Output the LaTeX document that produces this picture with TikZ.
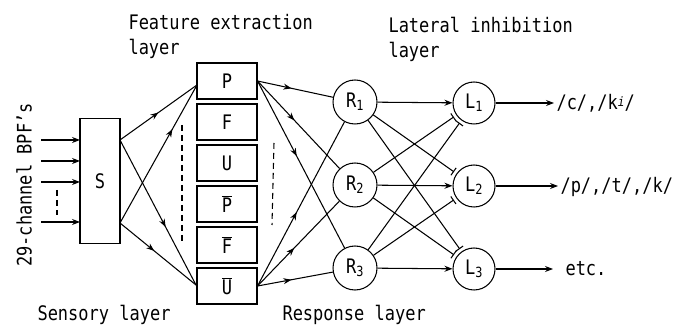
\documentclass[tikz,border=0pt]{standalone}
\usepackage{fontspec}
\setmainfont{DejaVu Sans Mono}[FakeStretch=0.85]
\usetikzlibrary{arrows.meta,decorations.markings}

\tikzset{
  tip/.tip={Stealth[length=8pt,width=6pt]},
  lbl/.style={font=\fontsize{20}{24}\selectfont, inner sep=0pt},
  sensebox/.style={draw, minimum width=40pt, minimum height=125pt, lbl},
  featbox/.style={draw, minimum width=60pt, minimum height=36pt, lbl},
  unit/.style={draw, circle, minimum size=44pt, lbl},
  excite/.style={-tip},
  inhibit/.style={-{Bar[width=9pt]}, shorten >=3pt},
  midarrow/.style={postaction={decorate},
    decoration={markings, mark=at position #1 with {\arrow{tip}}}},
  gapline/.style={dashed, dash pattern=on 6pt off 4pt}
}

\begin{document}
\begin{tikzpicture}[x=1pt, y=-1pt, line width=1.05pt]
\useasboundingbox (0,0) rectangle (675,328);

% layer titles
\node[lbl, anchor=base west] (tfeat) at (128,30) {Feature extraction};
\node[lbl, anchor=base west] (tfeat2) at (128,55) {layer};
\node[lbl, anchor=base west] (tlat) at (388,33) {Lateral inhibition};
\node[lbl, anchor=base west] (tlat2) at (388,58) {layer};
\node[lbl, anchor=base west] (tsens) at (37,321) {Sensory layer};
\node[lbl, anchor=base west] (tresp) at (282,321) {Response layer};
\node[lbl, rotate=90] (tbpf) at (24,185) {29-channel BPF's};

% sensory unit
\node[sensebox] (S) at (100,181) {S};

% input channels
\foreach \y/\n in {140/a, 161/b, 182/c, 222/d}{
  \coordinate (in\n) at (41,\y);
  \coordinate (inS\n) at (80,\y);
  \draw[excite] (in\n) -- (inS\n);
}
\coordinate (dA) at (57,190);
\coordinate (dB) at (57,215);
\draw[gapline] (dA) -- (dB);

% feature extraction units
\node[featbox] (P)  at (227,81)  {P};
\node[featbox] (F)  at (227,122) {F};
\node[featbox] (U)  at (227,163) {U};
\node[featbox] (Pb) at (227,204) {\ensuremath{\overline{\hbox{P}}}};
\node[featbox] (Fb) at (227,245) {\ensuremath{\overline{\hbox{F}}}};
\node[featbox] (Ub) at (227,286) {\ensuremath{\overline{\hbox{U}}}};

% sensory -> feature connections
\coordinate (s1) at (120,140);
\coordinate (s2) at (120,223);
\coordinate (pin) at (197,85);
\coordinate (uin) at (196,285);
\draw[midarrow=0.5]  (s1) -- (pin);
\draw[midarrow=0.6]  (s1) -- (uin);
\draw[midarrow=0.68] (s2) -- (pin);
\draw[midarrow=0.45] (s2) -- (uin);
\coordinate (dC) at (182,125);
\coordinate (dD) at (182,242);
\draw[gapline] (dC) -- (dD);

% response units
\node[unit] (R1) at (355,102) {R\textsubscript{1}};
\node[unit] (R2) at (355,185) {R\textsubscript{2}};
\node[unit] (R3) at (355,268) {R\textsubscript{3}};

% feature -> response connections
\foreach \r in {R1,R2,R3}{
  \draw[midarrow=0.45] (P.east) -- (\r);
  \draw[midarrow=0.45] (Ub.east) -- (\r);
}
\coordinate (dE) at (274,143);
\coordinate (dF) at (272,225);
\draw[gapline] (dE) -- (dF);

% lateral inhibition units
\node[unit, minimum size=42pt] (L1) at (474,103) {L\textsubscript{1}};
\node[unit, minimum size=42pt] (L2) at (474,186) {L\textsubscript{2}};
\node[unit, minimum size=42pt] (L3) at (474,269) {L\textsubscript{3}};

% excitatory and inhibitory links
\draw[excite]  (R1) -- (L1);
\draw[excite]  (R2) -- (L2);
\draw[excite]  (R3) -- (L3);
\draw[inhibit] (R1) -- (L2);
\draw[inhibit] (R1) -- (L3);
\draw[inhibit] (R2) -- (L1);
\draw[inhibit] (R2) -- (L3);
\draw[inhibit] (R3) -- (L1);
\draw[inhibit] (R3) -- (L2);

% outputs
\coordinate (o1) at (554,103);
\coordinate (o2) at (558,186);
\coordinate (o3) at (553,269);
\draw[excite] (L1) -- (o1);
\draw[excite] (L2) -- (o2);
\draw[excite] (L3) -- (o3);
\node[lbl, anchor=base west] (out1) at (556,110)
  {/c/,/k\raisebox{3pt}{\fontsize{13}{14}\selectfont\itshape i}/};
\node[lbl, anchor=base west] (out2) at (560,193) {/p/,/t/,/k/};
\node[lbl, anchor=base west] (out3) at (565,276) {etc.};
\end{tikzpicture}
\end{document}
